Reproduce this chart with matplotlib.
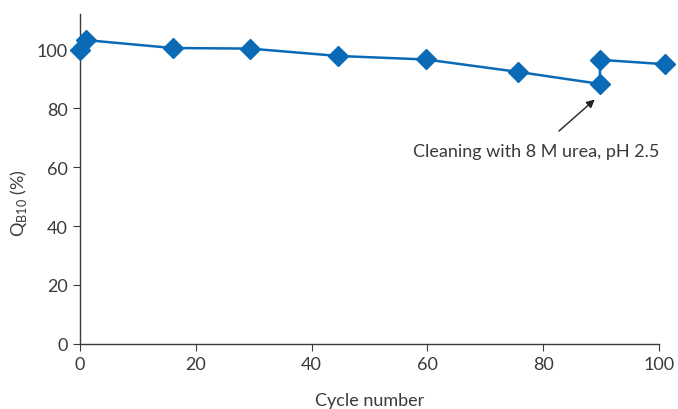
import matplotlib.pyplot as plt

cycles = [0, 1, 16, 29.4, 44.6, 59.8, 75.6, 89.8, 89.8, 101]
qb10 = [99.7, 103.2, 100.5, 100.3, 97.8, 96.6, 92.4, 88.3, 96.5, 95.0]

xticks = [0, 20, 40, 60, 80, 100]
yticks = [0, 20, 40, 60, 80, 100]

blue = '#0a6ab6'
txt = '#3a3a3a'

plt.rcParams['font.family'] = ['Lato', 'DejaVu Sans']

fig = plt.figure(figsize=(6.78, 4.10), dpi=100)
ax = fig.add_axes([0.118, 0.159, 0.854, 0.804])

ax.plot(cycles, qb10, color=blue, lw=1.8, marker='D', ms=10.5,
        markerfacecolor=blue, markeredgecolor=blue, clip_on=False, zorder=3)

ax.set_xlim(0, 100)
ax.set_ylim(0, 112)
ax.set_xticks(xticks)
ax.set_yticks(yticks)
for s in ['top', 'right']:
    ax.spines[s].set_visible(False)
for s in ['left', 'bottom']:
    ax.spines[s].set_color(txt)
    ax.spines[s].set_linewidth(1.0)
ax.tick_params(direction='out', length=5, color=txt, labelcolor=txt,
               labelsize=13, pad=4)

ax.set_xlabel('Cycle number', fontsize=13, color=txt, labelpad=14)
ax.set_ylabel('Q$_{\\mathregular{B10}}$ (%)', fontsize=13, color=txt)
ax.yaxis.set_label_coords(-0.088, 0.43)

ax.annotate('Cleaning with 8 M urea, pH 2.5', xy=(88.9, 83.0), xytext=(78.8, 65.5),
            ha='center', va='center', fontsize=13, color=txt,
            arrowprops=dict(arrowstyle='-|>', color='#222222', lw=1.0,
                            shrinkA=10, shrinkB=0, mutation_scale=12))

fig.savefig('out.png', dpi=100)
